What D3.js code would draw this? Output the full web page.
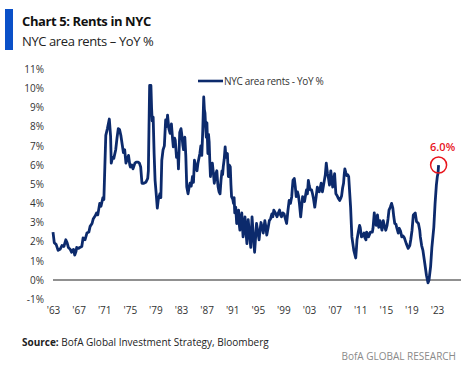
<!DOCTYPE html>
<html lang="en">
<head>
  <meta charset="UTF-8" />
  <title>Chart 5: Rents in NYC</title>

  <!-- D3.js from a CDN (version 7) -->
  <script src="https://d3js.org/d3.v7.min.js"></script>

  <style>
    html, body {
      margin: 0;
      padding: 0;
      background: #fff;
      overflow: hidden;
      font-family: "Open Sans", "Noto Sans", Arial, sans-serif;
    }
  </style>
</head>
<body>
  <div id="chart"></div>

  <script>
    /**************************************************************
     *                          DATA
     **************************************************************/
    // Decimal years
    const years = [
      1963.0, 1963.2, 1963.5, 1963.8, 1964.1, 1964.4, 1964.7, 1965.0, 1965.2, 1965.4,
      1965.7, 1965.9, 1966.2, 1966.4, 1966.6, 1966.7, 1967.0, 1967.2, 1967.5, 1967.7,
      1968.0, 1968.3, 1968.6, 1968.8, 1969.1, 1969.3, 1969.6, 1969.8, 1970.0, 1970.3,
      1970.5, 1970.8, 1970.95, 1971.1, 1971.25, 1971.5, 1971.8, 1972.0, 1972.1, 1972.3,
      1972.5, 1972.8, 1973.0, 1973.2, 1973.4, 1973.6, 1973.8, 1974.0, 1974.2, 1974.4,
      1974.6, 1974.8, 1975.0, 1975.1, 1975.3, 1975.5, 1975.8, 1976.0, 1976.3, 1976.5,
      1976.7, 1976.9, 1977.2, 1977.5, 1977.8, 1977.9, 1978.0, 1978.1, 1978.3, 1978.4,
      1978.5, 1978.65, 1978.8, 1978.95, 1979.1, 1979.3, 1979.45, 1979.7, 1979.85, 1980.0,
      1980.2, 1980.4, 1980.6, 1980.75, 1980.9, 1981.1, 1981.3, 1981.5, 1981.7, 1981.8,
      1982.0, 1982.1, 1982.3, 1982.5, 1982.6, 1982.8, 1983.0, 1983.1, 1983.3, 1983.4,
      1983.6, 1983.75, 1983.9, 1984.1, 1984.25, 1984.4, 1984.6, 1984.8, 1984.95, 1985.1,
      1985.3, 1985.5, 1985.65, 1985.8, 1985.95, 1986.1, 1986.25, 1986.4, 1986.55, 1986.65,
      1986.75, 1986.85, 1986.95, 1987.05, 1987.2, 1987.3, 1987.4, 1987.5, 1987.6, 1987.75,
      1987.9, 1988.05, 1988.2, 1988.4, 1988.6, 1988.7, 1988.8, 1988.95, 1989.1, 1989.25,
      1989.4, 1989.5, 1989.6, 1989.75, 1989.9, 1990.0, 1990.1, 1990.25, 1990.4, 1990.55,
      1990.7, 1990.8, 1990.9, 1991.1, 1991.2, 1991.3, 1991.4, 1991.55, 1991.7, 1991.85,
      1992.0, 1992.1, 1992.2, 1992.35, 1992.5, 1992.6, 1992.7, 1992.85, 1993.0, 1993.15,
      1993.3, 1993.4, 1993.5, 1993.7, 1993.9, 1994.0, 1994.1, 1994.3, 1994.5, 1994.65,
      1994.8, 1995.0, 1995.2, 1995.35, 1995.5, 1995.7, 1995.85, 1996.1, 1996.25, 1996.4,
      1996.6, 1996.8, 1997.0, 1997.2, 1997.35, 1997.5, 1997.75, 1998.0, 1998.2, 1998.4,
      1998.55, 1998.7, 1998.9, 1999.1, 1999.3, 1999.5, 1999.7, 1999.9, 2000.1, 2000.3,
      2000.4, 2000.5, 2000.7, 2000.85, 2001.0, 2001.2, 2001.35, 2001.5, 2001.7, 2001.85,
      2002.0, 2002.15, 2002.3, 2002.45, 2002.6, 2002.75, 2002.9, 2003.05, 2003.2, 2003.4,
      2003.55, 2003.7, 2003.9, 2004.1, 2004.3, 2004.45, 2004.6, 2004.75, 2004.9, 2005.0,
      2005.1, 2005.25, 2005.4, 2005.55, 2005.7, 2005.8, 2005.9, 2006.05, 2006.2, 2006.3,
      2006.4, 2006.55, 2006.7, 2006.85, 2007.0, 2007.1, 2007.2, 2007.4, 2007.6, 2007.8,
      2008.0, 2008.1, 2008.25, 2008.4, 2008.5, 2008.6, 2008.75, 2008.9, 2009.05, 2009.2,
      2009.35, 2009.5, 2009.6, 2009.7, 2009.85, 2010.0, 2010.15, 2010.3, 2010.4, 2010.5,
      2010.7, 2010.9, 2011.0, 2011.2, 2011.4, 2011.6, 2011.75, 2011.9, 2012.0, 2012.2,
      2012.3, 2012.6, 2012.9, 2013.0, 2013.2, 2013.35, 2013.5, 2013.7, 2013.9, 2014.1,
      2014.2, 2014.4, 2014.6, 2014.8, 2015.0, 2015.2, 2015.35, 2015.5, 2015.7, 2015.9,
      2016.1, 2016.25, 2016.4, 2016.6, 2016.7, 2016.95, 2017.1, 2017.3, 2017.5, 2017.7,
      2017.9, 2018.2, 2018.5, 2018.75, 2018.9, 2019.1, 2019.3, 2019.6, 2019.8, 2020.1,
      2020.3, 2020.4, 2020.6, 2020.8, 2021.1, 2021.35, 2021.6, 2021.75, 2022.0, 2022.2,
      2022.5, 2022.7, 2022.9, 2023.05, 2023.15, 2023.25
    ];

    // NYC area rents, YoY %
    const rentsYoY = [
      2.5, 1.95, 1.85, 1.55, 1.6, 1.8, 1.75, 2.1, 1.95, 1.7,
      1.6, 1.45, 1.6, 1.3, 1.5, 1.7, 1.65, 1.7, 1.75, 2.2,
      2.1, 2.45, 2.5, 2.8, 2.95, 3.2, 3.35, 3.5, 3.4, 4.0,
      3.85, 4.3, 4.2, 5.9, 7.55, 7.9, 8.4, 7.5, 6.1, 6.4,
      6.35, 6.8, 7.4, 7.9, 7.85, 7.55, 7.1, 6.65, 6.8, 6.1,
      6.3, 6.5, 6.0, 5.9, 6.0, 5.8, 6.1, 6.15, 6.15, 6.1,
      5.9, 5.05, 5.05, 5.1, 5.3, 5.7, 8.0, 10.15, 10.15, 9.0,
      8.3, 8.5, 6.6, 5.2, 4.6, 3.75, 4.2, 4.5, 4.3, 6.25,
      6.8, 7.0, 8.35, 8.0, 8.6, 7.9, 7.65, 8.15, 7.3, 6.95,
      7.4, 7.3, 6.4, 6.6, 5.8, 7.7, 7.9, 7.65, 7.0, 6.8,
      7.45, 6.5, 4.85, 4.5, 4.8, 5.05, 4.9, 5.4, 5.1, 6.25,
      5.9, 5.7, 6.1, 6.35, 6.6, 7.0, 6.5, 7.8, 9.55, 8.9,
      8.7, 8.0, 7.45, 8.2, 6.6, 7.6, 7.2, 6.2, 5.4, 5.9,
      6.1, 5.6, 5.05, 5.5, 5.7, 5.2, 4.85, 4.6, 4.5, 5.2,
      5.7, 5.5, 5.9, 6.3, 6.95, 6.5, 6.4, 6.6, 5.4, 6.0,
      5.9, 5.0, 4.35, 4.2, 4.0, 4.3, 3.5, 3.8, 2.95, 3.4,
      3.65, 2.9, 2.6, 3.2, 3.5, 2.8, 2.25, 2.7, 3.3, 2.5,
      1.9, 2.6, 3.15, 2.4, 1.7, 2.5, 3.3, 2.3, 1.45, 2.2,
      2.95, 2.5, 2.1, 2.6, 3.0, 2.7, 2.45, 3.1, 2.8, 2.35,
      2.7, 3.1, 3.2, 3.45, 3.3, 3.65, 3.5, 3.3, 3.5, 3.65,
      3.4, 3.3, 3.5, 3.45, 3.2, 2.95, 3.6, 4.15, 4.0, 4.35,
      4.8, 5.2, 5.3, 4.9, 4.35, 4.6, 4.4, 4.0, 3.3, 3.8,
      4.35, 4.2, 4.1, 4.4, 4.7, 4.5, 5.2, 4.9, 4.7, 4.7,
      4.5, 4.25, 3.8, 4.3, 4.85, 4.7, 4.6, 4.8, 5.05, 4.8,
      4.6, 4.9, 5.2, 5.5, 6.1, 5.8, 5.55, 5.3, 4.95, 5.3,
      5.7, 5.3, 4.85, 5.2, 5.55, 5.0, 4.5, 4.4, 4.25, 4.15,
      4.3, 4.4, 4.8, 5.05, 5.5, 5.8, 5.6, 5.45, 5.5, 5.4,
      4.6, 3.8, 3.0, 2.25, 1.9, 1.55, 1.35, 1.15, 1.6, 2.1,
      2.5, 2.85, 2.75, 2.25, 2.3, 2.45, 2.2, 2.1, 2.5, 2.4,
      2.25, 2.5, 2.5, 2.7, 3.5, 3.0, 2.85, 3.4, 2.75, 3.1,
      2.9, 2.6, 3.1, 2.8, 2.6, 2.85, 3.2, 3.65, 3.8, 4.0,
      3.75, 3.3, 2.95, 2.9, 2.75, 2.45, 2.7, 2.55, 2.25, 2.3,
      2.2, 1.9, 1.65, 1.8, 2.1, 2.6, 3.4, 3.5, 3.05, 2.95,
      2.6, 2.25, 1.8, 1.55, 0.85, 0.25, -0.15, 0.0, 0.7, 1.7,
      2.75, 4.0, 4.95, 5.4, 5.55, 6.0
    ];

    // Axis ticks and labels
    const yTicks = [-1, 0, 1, 2, 3, 4, 5, 6, 7, 8, 9, 10, 11];
    const xTickYears = [1963, 1967, 1971, 1975, 1979, 1983, 1987, 1991, 1995, 1999, 2003, 2007, 2011, 2015, 2019, 2023];
    const xTickLabels = ["'63", "'67", "'71", "'75", "'79", "'83", "'87", "'91", "'95", "'99", "'03", "'07", "'11", "'15", "'19", "'23"];

    const seriesName = "NYC area rents - YoY %";
    const lastLabel = "6.0%";

    /**************************************************************
     *                         LAYOUT
     **************************************************************/
    const width = 472;
    const height = 368;
    const navy = "#0c2a6c";

    const svg = d3.select("#chart")
      .append("svg")
      .attr("width", width)
      .attr("height", height);

    // Scales: 1963 -> 53px, about 6.4px per year; 0% at 280px
    const x = d3.scaleLinear().domain([1963, 2026.75]).range([53, 461]);
    const y = d3.scaleLinear().domain([-1, 11]).range([299.2, 69.2]);

    /**************************************************************
     *                       TITLE BLOCK
     **************************************************************/
    svg.append("rect")
      .attr("x", 5).attr("y", 9)
      .attr("width", 8).attr("height", 41)
      .attr("fill", "#0a50c8");

    svg.append("text")
      .attr("x", 22).attr("y", 26)
      .attr("font-size", 13)
      .attr("font-weight", "bold")
      .attr("letter-spacing", -0.4)
      .attr("fill", "#111")
      .text("Chart 5: Rents in NYC");

    svg.append("text")
      .attr("x", 22).attr("y", 46)
      .attr("font-size", 13)
      .attr("letter-spacing", -0.4)
      .attr("fill", "#222")
      .text("NYC area rents \u2013 YoY %");

    /**************************************************************
     *                          AXES
     **************************************************************/
    // Y labels (no axis line)
    const yAxis = d3.axisLeft(y)
      .tickValues(yTicks)
      .tickSize(0)
      .tickPadding(0)
      .tickFormat(d => d + "%");

    svg.append("g")
      .attr("transform", "translate(44,0)")
      .call(yAxis)
      .call(g => g.select(".domain").remove())
      .selectAll("text")
      .attr("font-size", 10)
      .attr("font-family", "'Open Sans', Arial, sans-serif")
      .attr("fill", "#333");

    // X labels placed below the plot
    const xAxis = d3.axisBottom(x)
      .tickValues(xTickYears)
      .tickSize(0)
      .tickPadding(0)
      .tickFormat((d, i) => xTickLabels[i]);

    svg.append("g")
      .attr("transform", "translate(0,307)")
      .call(xAxis)
      .call(g => g.select(".domain").remove())
      .selectAll("text")
      .attr("font-size", 10)
      .attr("font-family", "'Open Sans', Arial, sans-serif")
      .attr("fill", "#333");

    // Zero line
    svg.append("line")
      .attr("x1", x(1963)).attr("x2", x(2026.75))
      .attr("y1", y(0)).attr("y2", y(0))
      .attr("stroke", "#6b6b6b")
      .attr("stroke-width", 1.5);

    /**************************************************************
     *                          SERIES
     **************************************************************/
    const points = years.map((yr, i) => [yr, rentsYoY[i]]);

    const line = d3.line()
      .x(d => x(d[0]))
      .y(d => y(d[1]));

    svg.append("path")
      .datum(points)
      .attr("fill", "none")
      .attr("stroke", navy)
      .attr("stroke-width", 2.8)
      .attr("stroke-linejoin", "round")
      .attr("d", line);

    // Latest value callout
    const last = points[points.length - 1];
    svg.append("circle")
      .attr("cx", x(last[0]))
      .attr("cy", y(last[1]))
      .attr("r", 8)
      .attr("fill", "none")
      .attr("stroke", "#e8141c")
      .attr("stroke-width", 1.5);

    svg.append("text")
      .attr("x", x(last[0]) + 4)
      .attr("y", y(last[1]) - 14)
      .attr("text-anchor", "middle")
      .attr("font-size", 11)
      .attr("font-weight", 600)
      .attr("fill", "#e8141c")
      .text(lastLabel);

    /**************************************************************
     *                          LEGEND
     **************************************************************/
    svg.append("line")
      .attr("x1", 198).attr("x2", 223)
      .attr("y1", 81).attr("y2", 81)
      .attr("stroke", navy)
      .attr("stroke-width", 2.6);

    svg.append("text")
      .attr("x", 224).attr("y", 81)
      .attr("dy", "0.35em")
      .attr("font-size", 10)
      .attr("fill", "#333")
      .attr("letter-spacing", -0.3)
      .text(seriesName);

    /**************************************************************
     *                          FOOTER
     **************************************************************/
    const src = svg.append("text")
      .attr("x", 22).attr("y", 346)
      .attr("font-size", 10)
      .attr("fill", "#222");
    src.append("tspan").attr("font-weight", "bold").text("Source:");
    src.append("tspan").text("  BofA Global Investment Strategy, Bloomberg");

    svg.append("text")
      .attr("x", 456).attr("y", 360)
      .attr("text-anchor", "end")
      .attr("font-size", 10)
      .attr("fill", "#8a8a8a")
      .text("BofA GLOBAL RESEARCH");
  </script>
</body>
</html>
